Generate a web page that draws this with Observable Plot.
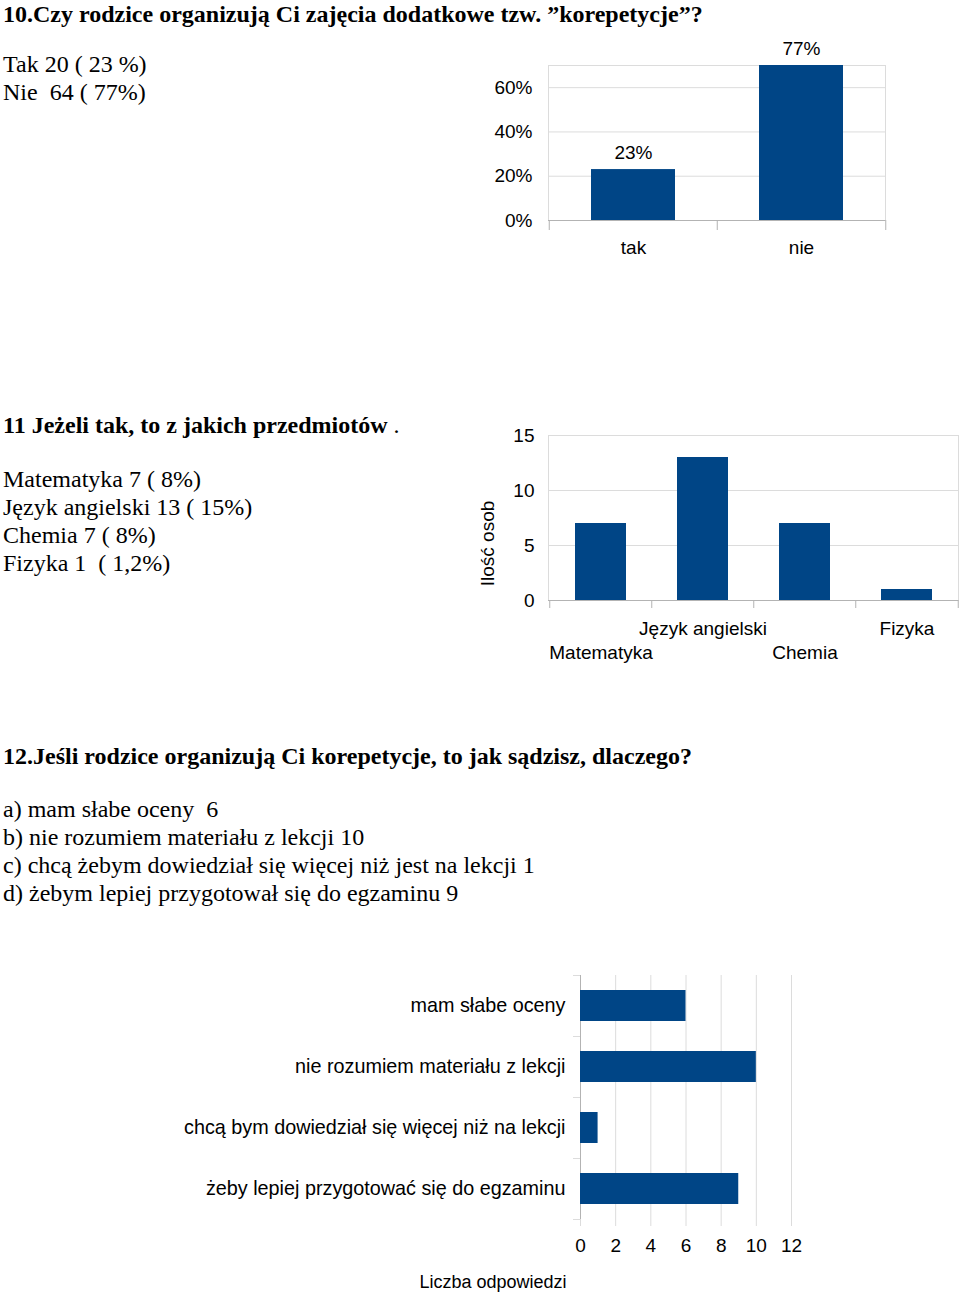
<!DOCTYPE html>
<html><head><meta charset="utf-8">
<script src="https://cdn.jsdelivr.net/npm/d3@7"></script>
<script src="https://cdn.jsdelivr.net/npm/@observablehq/plot@0.6"></script>
<style>
body{margin:0;background:#fff;}
#page{position:relative;width:960px;height:1295px;overflow:hidden;font-family:"Liberation Serif","Times New Roman",serif;color:#000;background:#fff;}
.t{position:absolute;left:3px;font-size:24px;line-height:28px;white-space:pre;}
.b{font-weight:bold;}
.chart{position:absolute;}
</style></head><body><div id="page"></div>
<script>
// ---- data ----
const q10Title = "10.Czy rodzice organizują Ci zajęcia dodatkowe tzw. ”korepetycje”?";
const q10Lines = ["Tak 20 ( 23 %)", "Nie  64 ( 77%)"];
const q10Categories = ["tak", "nie"];
const q10Percent = [23, 77];
const q10Ticks = [0, 20, 40, 60];

const q11Title = "11 Jeżeli tak, to z jakich przedmiotów";
const q11Lines = ["Matematyka 7 ( 8%)", "Język angielski 13 ( 15%)", "Chemia 7 ( 8%)", "Fizyka 1  ( 1,2%)"];
const q11Subjects = ["Matematyka", "Język angielski", "Chemia", "Fizyka"];
const q11Counts = [7, 13, 7, 1];
const q11Ticks = [0, 5, 10, 15];
const q11YLabel = "Ilość osob";

const q12Title = "12.Jeśli rodzice organizują Ci korepetycje, to jak sądzisz, dlaczego?";
const q12Lines = ["a) mam słabe oceny  6", "b) nie rozumiem materiału z lekcji 10", "c) chcą żebym dowiedział się więcej niż jest na lekcji 1", "d) żebym lepiej przygotował się do egzaminu 9"];
const q12Reasons = ["mam słabe oceny", "nie rozumiem materiału z lekcji", "chcą bym dowiedział się więcej niż na lekcji", "żeby lepiej przygotować się do egzaminu"];
const q12Counts = [6, 10, 1, 9];
const q12Ticks = [0, 2, 4, 6, 8, 10, 12];
const q12XLabel = "Liczba odpowiedzi";

// ---- page ----
const page = document.getElementById("page");
function addText(html, top, cls) {
  const d = document.createElement("div");
  d.className = "t " + (cls || "");
  d.style.top = top + "px";
  d.innerHTML = html;
  page.appendChild(d);
}
function place(svg, left, top) {
  const w = document.createElement("div");
  w.className = "chart";
  w.style.left = left + "px";
  w.style.top = top + "px";
  w.appendChild(svg);
  page.appendChild(w);
}
const esc = s => s.replace(/&/g, "&amp;").replace(/</g, "&lt;");

addText(esc(q10Title), 0, "b");
q10Lines.forEach((l, i) => addText(esc(l), 50 + i * 28));
addText(`<b>${esc(q11Title)}</b> .`, 411);
q11Lines.forEach((l, i) => addText(esc(l), 465 + i * 28));
addText(esc(q12Title), 742, "b");
q12Lines.forEach((l, i) => addText(esc(l), 795 + i * 28));

const BLUE = "#004586";
const GRID = "#dcdcdc";
const AXIS = "#b3b3b3";
const STYLE = {fontFamily: "'Liberation Sans', Arial, sans-serif", fontSize: "19px", color: "#000", background: "transparent"};

// ---- chart 10 ----
{
  const W = 440, H = 240, ml = 78, mr = 25, mt = 35, mb = 50;
  const step = (W - ml - mr) / q10Categories.length;
  const data = q10Categories.map((c, i) => ({c, v: q10Percent[i], label: q10Percent[i] + "%"}));
  const last = q10Categories[q10Categories.length - 1];
  const svg = Plot.plot({
    width: W, height: H, marginLeft: ml, marginRight: mr, marginTop: mt, marginBottom: mb,
    style: STYLE,
    x: {domain: q10Categories, paddingInner: 0.5, paddingOuter: 0.25, label: null},
    y: {domain: [0, 70], clamp: true, label: null},
    marks: [
      Plot.gridY(q10Ticks.slice(1), {stroke: GRID, strokeOpacity: 1}),
      Plot.frame({stroke: GRID}),
      Plot.ruleY([0], {stroke: AXIS}),
      Plot.barY(data, {x: "c", y: "v", fill: BLUE}),
      Plot.text(data, {x: "c", y: "v", text: "label", dy: -17, fontSize: 19}),
      Plot.axisY(q10Ticks, {tickSize: 0, tickPadding: 16, tickFormat: d => d + "%", fontSize: 19, label: null}),
      Plot.axisX(q10Categories, {tickSize: 0, tickPadding: 20, fontSize: 19, label: null}),
      Plot.axisX(q10Categories, {tickSize: 10, tickFormat: () => "", dx: -step / 2, stroke: AXIS, label: null}),
      Plot.axisX([last], {tickSize: 10, tickFormat: () => "", dx: step / 2, stroke: AXIS, label: null})
    ]
  });
  place(svg, 470, 30);
}

// ---- chart 11 ----
{
  const W = 500, H = 260, ml = 88, mr = 2, mt = 20, mb = 75;
  const step = (W - ml - mr) / q11Subjects.length;
  const data = q11Subjects.map((s, i) => ({s, v: q11Counts[i], i}));
  const last = q11Subjects[q11Subjects.length - 1];
  const svg = Plot.plot({
    width: W, height: H, marginLeft: ml, marginRight: mr, marginTop: mt, marginBottom: mb,
    style: STYLE,
    x: {domain: q11Subjects, paddingInner: 0.5, paddingOuter: 0.25, label: null},
    y: {domain: [0, 15], label: null},
    marks: [
      Plot.gridY(q11Ticks.slice(1), {stroke: GRID, strokeOpacity: 1}),
      Plot.frame({stroke: GRID}),
      Plot.ruleY([0], {stroke: AXIS}),
      Plot.barY(data, {x: "s", y: "v", fill: BLUE}),
      Plot.axisY(q11Ticks, {tickSize: 0, tickPadding: 14, fontSize: 19, label: null}),
      Plot.text(data.filter(d => d.i % 2 === 1), {x: "s", text: "s", frameAnchor: "bottom", lineAnchor: "middle", textAnchor: "middle", dy: 28, fontSize: 19}),
      Plot.text(data.filter(d => d.i % 2 === 0), {x: "s", text: "s", frameAnchor: "bottom", lineAnchor: "middle", textAnchor: "middle", dy: 52, fontSize: 19}),
      Plot.text([q11YLabel], {text: d => d, frameAnchor: "left", textAnchor: "middle", lineAnchor: "middle", dx: -61, dy: 25.5, rotate: -90, fontSize: 19}),
      Plot.axisX(q11Subjects, {tickSize: 8, tickFormat: () => "", dx: -step / 2, stroke: AXIS, label: null}),
      Plot.axisX([last], {tickSize: 8, tickFormat: () => "", dx: step / 2, stroke: AXIS, label: null})
    ]
  });
  place(svg, 460, 415);
}

// ---- chart 12 ----
{
  const W = 640, H = 335, ml = 410, mr = 19, mt = 15, mb = 76;
  const step = (H - mt - mb) / q12Reasons.length;
  const data = q12Reasons.map((r, i) => ({r, v: q12Counts[i]}));
  const last = q12Reasons[q12Reasons.length - 1];
  const svg = Plot.plot({
    width: W, height: H, marginLeft: ml, marginRight: mr, marginTop: mt, marginBottom: mb,
    style: STYLE,
    x: {domain: [0, 12], label: null},
    y: {domain: q12Reasons, paddingInner: 0.5, paddingOuter: 0.25, label: null},
    marks: [
      Plot.gridX(q12Ticks.slice(1), {stroke: GRID, strokeOpacity: 1}),
      Plot.ruleX([0], {stroke: AXIS}),
      Plot.barX(data, {x: "v", y: "r", fill: BLUE}),
      Plot.axisX(q12Ticks, {tickSize: 7, tickPadding: 12, stroke: GRID, fontSize: 19, label: null}),
      Plot.axisY(q12Reasons, {tickSize: 0, tickPadding: 15, fontSize: 19.8, label: null}),
      Plot.axisY(q12Reasons, {tickSize: 7, tickFormat: () => "", dy: -step / 2, stroke: GRID, label: null}),
      Plot.axisY([last], {tickSize: 7, tickFormat: () => "", dy: step / 2, stroke: GRID, label: null}),
      Plot.text([q12XLabel], {text: d => d, frameAnchor: "bottom-left", textAnchor: "end", lineAnchor: "middle", dx: -14, dy: 63, fontSize: 18})
    ]
  });
  place(svg, 170, 960);
}
</script>
</body></html>
